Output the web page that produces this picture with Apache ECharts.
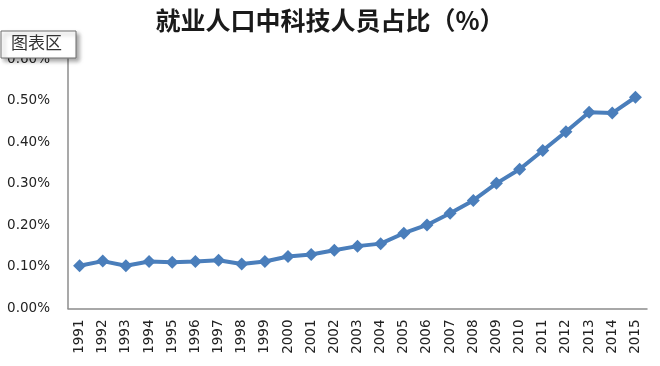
<!DOCTYPE html>
<html><head><meta charset="utf-8">
<script src="https://cdn.jsdelivr.net/npm/echarts@6/dist/echarts.min.js"></script>
<style>html,body{margin:0;padding:0;background:#fff}#c{width:660px;height:366px}</style>
</head><body><div id="c"></div>
<script>
const titleText = '就业人口中科技人员占比（%）';
const years = ['1991','1992','1993','1994','1995','1996','1997','1998','1999','2000','2001','2002','2003','2004','2005','2006','2007','2008','2009','2010','2011','2012','2013','2014','2015'];
const shares = [0.103,0.114,0.103,0.113,0.111,0.113,0.116,0.107,0.113,0.125,0.130,0.140,0.150,0.156,0.181,0.201,0.229,0.260,0.301,0.335,0.380,0.425,0.472,0.470,0.508];
const yMin = 0, yMax = 0.6, yStep = 0.1;

const chart = echarts.init(document.getElementById('c'), null, {renderer:'canvas'});
chart.setOption({
  animation:false,
  title:{text:titleText,left:'center',top:3,textStyle:{fontFamily:'Noto Sans CJK SC',fontSize:25,fontWeight:'bold',color:'#1a1a1a'}},
  grid:{left:68,right:13,top:59,bottom:57.5,containLabel:false},
  xAxis:{type:'category',data:years,boundaryGap:true,
    axisLine:{lineStyle:{color:'#8c8c8c',width:1.5}},axisTick:{show:false},
    axisLabel:{rotate:90,interval:0,margin:11,fontFamily:'DejaVu Sans',fontSize:13.5,color:'#222'}},
  yAxis:{type:'value',min:yMin,max:yMax,interval:yStep,
    axisLine:{show:true,lineStyle:{color:'#8c8c8c',width:1.5}},axisTick:{show:false},splitLine:{show:false},
    axisLabel:{margin:18,fontFamily:'DejaVu Sans',fontSize:13.5,color:'#222',formatter:v=>v.toFixed(2)+'%'}},
  series:[{type:'line',data:shares,symbol:'diamond',symbolSize:13,
    lineStyle:{color:'#4a7ebb',width:4},itemStyle:{color:'#4a7ebb'}}],
  graphic:[
    {type:'rect',z:100,shape:{x:1,y:31,width:75,height:27},style:{fill:'#fff',stroke:'#6e6e6e',lineWidth:1,shadowBlur:4,shadowOffsetX:3,shadowOffsetY:3,shadowColor:'rgba(0,0,0,0.35)'}},
    {type:'text',z:101,left:11,top:34,style:{text:'图表区',font:'17px "Noto Sans CJK SC"',fill:'#333'}}
  ]
});
</script></body></html>
